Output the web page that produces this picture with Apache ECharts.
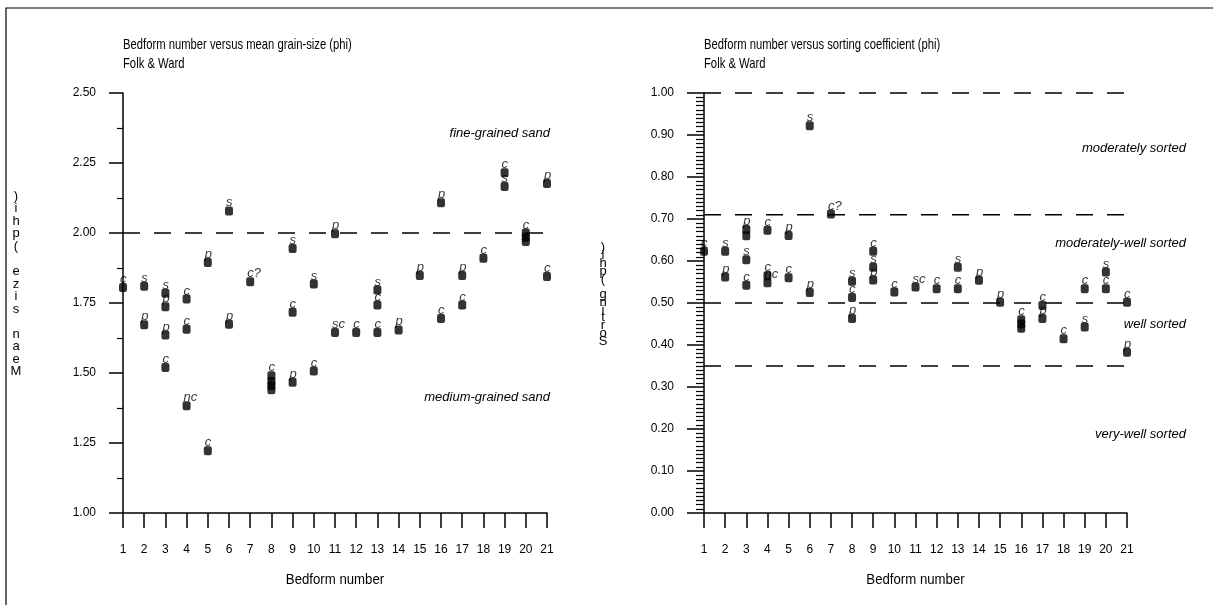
<!DOCTYPE html>
<html><head><meta charset="utf-8">
<script src="https://cdn.jsdelivr.net/npm/echarts@6/dist/echarts.min.js"></script>
<style>html,body{margin:0;padding:0;background:#fff}#c{width:1213px;height:605px}</style>
</head><body><div id="c"></div>
<script>
// ---- data ----
const bedformTicks = [1,2,3,4,5,6,7,8,9,10,11,12,13,14,15,16,17,18,19,20,21];

const meanBedform = [1, 2,2, 3,3,3,3, 4,4,4, 5,5, 6,6, 7, 8,8,8,8, 9,9,9, 10,10, 11,11, 12, 13,13,13, 14, 15, 16,16, 17,17, 18, 19,19, 20,20,20, 21,21];
const meanPhi     = [1.805, 1.81,1.672, 1.785,1.737,1.636,1.52, 1.764,1.656,1.383, 1.895,1.222, 2.079,1.674, 1.826, 1.49,1.47,1.455,1.44, 1.945,1.717,1.467, 1.818,1.507, 1.997,1.645, 1.645, 1.796,1.743,1.645, 1.654, 1.848, 2.108,1.695, 1.848,1.743, 1.91, 2.215,2.166, 2.0,1.985,1.97, 2.177,1.845];
const meanTag     = ['c', 's','p', 's','p','p','c', 'c','c','nc', 'p','c', 's','p', 'c?', 'c','','','', 's','c','p', 's','c', 'p','sc', 'c', 's','c','c', 'p', 'p', 'p','c', 'p','c', 'c', 'c','s', 'c','','', 'p','c'];

const sortBedform = [1, 2,2, 3,3,3,3, 4,4,4, 5,5, 6,6, 7, 8,8,8, 9,9,9, 10, 11, 12, 13,13, 14, 15, 16,16,16, 17,17, 18, 19,19, 20,20, 21,21];
const sortPhi     = [0.623, 0.623,0.562, 0.675,0.66,0.603,0.542, 0.673,0.565,0.548, 0.661,0.56, 0.922,0.525, 0.712, 0.552,0.513,0.463, 0.623,0.585,0.555, 0.526, 0.538, 0.534, 0.585,0.534, 0.554, 0.502, 0.46,0.45,0.44, 0.494,0.463, 0.415, 0.534,0.443, 0.574,0.534, 0.502,0.383];
const sortTag     = ['c', 's','p', 'p','','s','c', 'c','c','nc', 'p','c', 's','p', 'c?', 's','c','p', 'c','s','p', 'c', 'sc', 'c', 's','c', 'p', 'p', 'c','','', 'c','p', 'c', 'c','s', 's','c', 'c','p'];

const meanTicks = ['1.00','1.25','1.50','1.75','2.00','2.25','2.50'];
const sortTicks = ['0.00','0.10','0.20','0.30','0.40','0.50','0.60','0.70','0.80','0.90','1.00'];

const meanRefLines = [2.0];
const sortRefLines = [1.0, 0.71, 0.50, 0.35];
const refLineSpan = [1, 21];   // bedform range covered by the dashed class limits

const meanZoneNames = ['fine-grained sand', 'medium-grained sand'];
const meanZoneAt    = [2.357, 1.414];
const sortZoneNames = ['moderately sorted', 'moderately-well sorted', 'well sorted', 'very-well sorted'];
const sortZoneAt    = [0.869, 0.643, 0.448, 0.186];

const titles = ['Bedform number versus mean grain-size (phi)\nFolk & Ward', 'Bedform number versus sorting coefficient (phi)\nFolk & Ward'];
const xName = 'Bedform number';
const yNames = ['Mean size (phi)', 'Sorting (phi)'];

// ---- chart ----
const FONT = '"Liberation Sans",Arial,sans-serif';
const chart = echarts.init(document.getElementById('c'), null, {renderer: 'canvas'});

function pts(xs, ys, tags) { return xs.map((x, i) => [x, ys[i], tags[i]]); }

function xAxis(gi) {
  return {
    type: 'value', gridIndex: gi, min: 1, max: 21, interval: 1,
    axisLine: {show: true, lineStyle: {color: '#000', width: 1.5}},
    axisTick: {show: true, inside: false, length: 15, lineStyle: {color: '#000', width: 1.5}},
    axisLabel: {color: '#000', fontFamily: FONT, fontSize: 12, margin: 31},
    splitLine: {show: false}
  };
}
function yAxis(gi, min, max, interval, minorSplit, tickLen, minorLen, labels) {
  return {
    type: 'value', gridIndex: gi, min: min, max: max, interval: interval,
    axisLine: {show: true, lineStyle: {color: '#000', width: 1.5}},
    axisTick: {show: true, inside: false, length: tickLen, lineStyle: {color: '#000', width: 1.5}},
    minorTick: {show: true, splitNumber: minorSplit, length: minorLen, lineStyle: {color: '#000', width: 1.2}},
    axisLabel: {color: '#000', fontFamily: FONT, fontSize: 12, margin: tickLen + 13,
      formatter: v => { const s = v.toFixed(2); return labels.indexOf(s) >= 0 ? s : ''; }},
    splitLine: {show: false}
  };
}
function scatter(gi, data) {
  return {
    type: 'scatter', xAxisIndex: gi, yAxisIndex: gi, data: data, z: 3,
    symbol: 'roundRect', symbolSize: [8, 9], clip: false,
    itemStyle: {color: '#000'},
    label: {show: true, position: [1, -10], formatter: p => p.data[2],
      fontFamily: FONT, fontStyle: 'italic', fontSize: 13, color: '#000'}
  };
}
function refLine(gi, v) {
  return {
    type: 'line', xAxisIndex: gi, yAxisIndex: gi, clip: false, z: 2,
    symbol: 'none', silent: true,
    data: refLineSpan.map(x => [x, v]),
    lineStyle: {color: '#000', type: [17, 14], width: 1.5}
  };
}

const option = {
  animation: false,
  backgroundColor: '#fff',
  grid: [
    {left: 123, top: 93, width: 424, height: 420},
    {left: 704, top: 93, width: 423, height: 420}
  ],
  xAxis: [xAxis(0), xAxis(1)],
  yAxis: [
    yAxis(0, 1, 2.5, 0.25, 2, 14, 6, meanTicks),
    yAxis(1, 0, 1, 0.1, 10, 17, 8, sortTicks)
  ],
  series: [
    scatter(0, pts(meanBedform, meanPhi, meanTag)),
    scatter(1, pts(sortBedform, sortPhi, sortTag))
  ].concat(meanRefLines.map(v => refLine(0, v)), sortRefLines.map(v => refLine(1, v)))
};
chart.setOption(option);

// decorations placed through the axes' scales
const g = [];
g.push({type: 'rect', shape: {x: 6, y: 8, width: 1220, height: 610}, style: {fill: 'none', stroke: '#000', lineWidth: 1.2}, silent: true});
[0, 1].forEach(gi => {
  const o = chart.convertToPixel({gridIndex: gi}, [1, gi === 0 ? 1 : 0]);
  const c = chart.convertToPixel({gridIndex: gi}, [11, gi === 0 ? 1 : 0]);
  // titles (condensed)
  g.push({type: 'text', x: o[0], y: 35, scaleX: 0.75, originX: 0, originY: 0,
    style: {text: titles[gi], font: '15px ' + FONT, fill: '#000', lineHeight: 19, verticalAlign: 'top'}});
  // x-axis name
  g.push({type: 'text', x: c[0], y: c[1] + 67, scaleX: 0.88, originX: 0, originY: 0,
    style: {text: xName, font: '15px ' + FONT, fill: '#000', align: 'center', verticalAlign: 'middle'}});
});
const zoneRight = [550, 1186];
meanZoneNames.forEach((t, i) => {
  const p = chart.convertToPixel({gridIndex: 0}, [21, meanZoneAt[i]]);
  g.push({type: 'text', x: zoneRight[0], y: p[1], style: {text: t, align: 'right', verticalAlign: 'middle', font: 'italic 13px ' + FONT, fill: '#000'}});
});
sortZoneNames.forEach((t, i) => {
  const p = chart.convertToPixel({gridIndex: 1}, [21, sortZoneAt[i]]);
  g.push({type: 'text', x: zoneRight[1], y: p[1], style: {text: t, align: 'right', verticalAlign: 'middle', font: 'italic 13px ' + FONT, fill: '#000'}});
});
// stacked vertical axis names
const stackY = [{x: 16, top: 190, bottom: 378}, {x: 603, top: 244, bottom: 345}];
yNames.forEach((t, i) => {
  const chars = t.split('').reverse();
  const lh = (stackY[i].bottom - stackY[i].top) / chars.length;
  g.push({type: 'text', x: stackY[i].x, y: stackY[i].top,
    style: {text: chars.join('\n'), align: 'center', verticalAlign: 'top', lineHeight: lh, font: '13px ' + FONT, fill: '#000'}});
});
chart.setOption({graphic: g});
</script>
</body></html>
